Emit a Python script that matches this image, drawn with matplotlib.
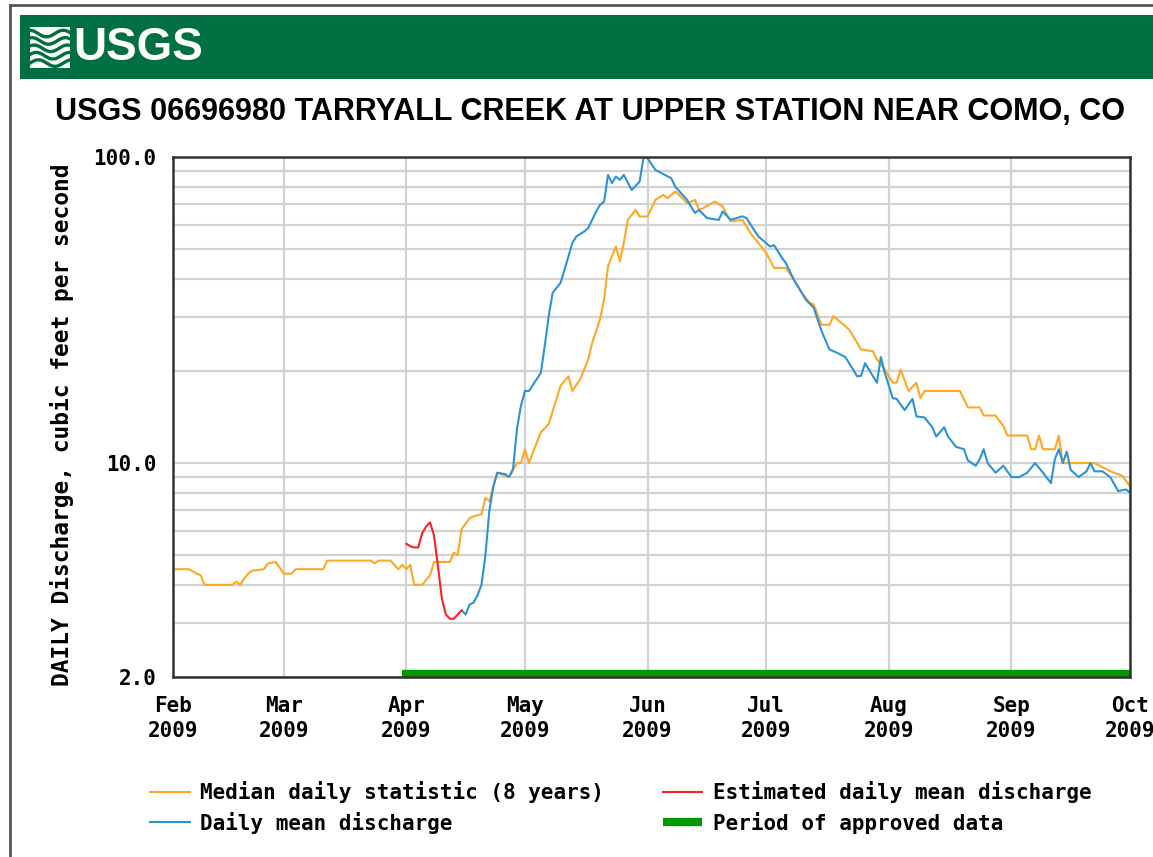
import numpy as np
import matplotlib
matplotlib.use("Agg")
import matplotlib.pyplot as plt
from matplotlib.ticker import FixedLocator, NullFormatter

median_days = [0, 4, 6, 7, 8, 15, 16, 17, 18, 19, 20, 23, 24, 26, 28, 30, 31, 38, 39, 50,
               51, 52, 55, 57, 58, 59, 60, 61, 63, 65, 66, 70, 71, 72, 73, 75, 76, 78, 79, 80,
               82, 85, 87, 88, 89, 90, 93, 95, 98, 100, 101, 103, 105, 106, 108, 109, 110, 112, 113, 114,
               115, 117, 118, 120, 122, 124, 125, 127, 128, 130, 132, 133, 134, 137, 139, 141, 144, 146, 150, 152,
               155, 157, 159, 161, 162, 164, 166, 167, 171, 174, 177, 178, 180, 182, 183, 184, 186, 188, 189, 190,
               199, 201, 204, 205, 208, 210, 211, 216, 217, 218, 219, 220, 223, 224, 225, 233, 235, 237, 240, 242]
median_cfs = [4.5, 4.5, 4.35, 4.3, 4.0, 4.0, 4.1, 4.0, 4.2, 4.35, 4.45, 4.5, 4.7, 4.75, 4.35, 4.35, 4.5, 4.5, 4.8, 4.8,
              4.7, 4.8, 4.8, 4.5, 4.65, 4.5, 4.65, 4.0, 4.0, 4.3, 4.75, 4.75, 5.1, 5.0, 6.1, 6.6, 6.7, 6.8, 7.7, 7.5,
              9.3, 9.0, 10.0, 10.0, 11.1, 10.0, 12.6, 13.4, 17.9, 19.2, 17.2, 18.8, 21.8, 24.7, 29.5, 34.2, 44, 51, 45.6, 52.4,
              62.3, 67.2, 63.9, 63.9, 72.4, 75.2, 73.4, 77.1, 75.2, 70.7, 72.4, 67.2, 68, 71.5, 68.9, 61.6, 62.3, 56.5, 48.6, 43.4,
              43.4, 39.7, 36, 33.4, 33, 28.3, 28.3, 30.2, 27.3, 23.5, 23.2, 21.8, 20.2, 18.3, 18.3, 20.2, 17.2, 18.3, 16.3, 17.2,
              17.2, 15.2, 15.2, 14.3, 14.3, 13.2, 12.3, 12.3, 11.1, 11.1, 12.3, 11.1, 11.1, 12.3, 10.0, 10.0, 9.7, 9.4, 9.1, 8.4]

est_days = [59, 60, 61, 62, 63, 64, 65, 66, 67, 68, 69, 70, 71, 72, 73]
est_cfs = [5.45, 5.35, 5.3, 5.3, 5.9, 6.2, 6.4, 5.8, 4.6, 3.6, 3.2, 3.1, 3.1, 3.2, 3.3]

mean_days = [73, 74, 75, 76, 77, 78, 79, 80, 81, 82, 84, 85, 86, 87, 88, 89, 90, 93, 94, 95,
             96, 98, 99, 101, 102, 104, 105, 107, 108, 109, 110, 111, 112, 113, 114, 116, 118, 119, 120, 122,
             126, 127, 130, 132, 133, 135, 138, 139, 141, 144, 145, 148, 151, 152, 154, 155, 157, 159, 160, 162,
             164, 166, 168, 170, 172, 173, 174, 175, 178, 179, 180, 182, 183, 185, 187, 188, 190, 192, 193, 195,
             196, 198, 200, 201, 203, 204, 205, 206, 208, 210, 212, 214, 216, 218, 220, 222, 223, 224, 225, 226,
             227, 229, 231, 232, 233, 235, 237, 239, 241, 242]
mean_cfs = [3.3, 3.2, 3.45, 3.5, 3.7, 4.0, 5.0, 7.0, 8.4, 9.3, 9.2, 9.0, 9.6, 13.0, 15.4, 17.2, 17.2, 19.7, 24.1, 30.2,
            36, 38.8, 42.8, 52.4, 55, 57.1, 58.6, 66.4, 69.8, 71.5, 87.4, 82.1, 86.3, 84.2, 87.4, 78, 83.1, 100, 99, 90.7,
            85.2, 80, 72.4, 65.6, 67.2, 63.2, 62.3, 66.4, 62.3, 64, 63.2, 55, 51, 51.5, 46.8, 45, 39.7, 36, 34.2, 32.2,
            27, 23.5, 22.9, 22.2, 20.2, 19.2, 19.3, 21.2, 18.3, 22.2, 19.7, 16.3, 16.2, 14.9, 16.2, 14.2, 14.1, 13.1, 12.2, 13.1,
            12.2, 11.3, 11.1, 10.2, 9.8, 10.3, 11.1, 10.0, 9.3, 9.8, 9.0, 9.0, 9.3, 10.0, 9.3, 8.6, 10.3, 11.1, 10.0, 10.9,
            9.5, 9.0, 9.4, 10.0, 9.4, 9.4, 9.0, 8.1, 8.2, 8.0]

approved_days = [58, 242]

month_labels = ["Feb\n2009", "Mar\n2009", "Apr\n2009", "May\n2009", "Jun\n2009",
                "Jul\n2009", "Aug\n2009", "Sep\n2009", "Oct\n2009"]
y_major = [2, 10, 100]
y_major_labels = ["2.0", "10.0", "100.0"]
y_minor = [3, 4, 5, 6, 7, 8, 9, 20, 30, 40, 50, 60, 70, 80, 90]

start = np.datetime64("2009-02-01")


def to_dates(days):
    return start + np.array(days).astype("timedelta64[D]")


mono = {"family": "DejaVu Sans Mono", "weight": "bold", "size": 15}
sans = ["Liberation Sans", "DejaVu Sans"]

W, H = 1153, 857
fig = plt.figure(figsize=(W / 100, H / 100), dpi=100)

# outer frame
fig.add_artist(plt.Line2D([10 / W, 1], [1 - 5 / H, 1 - 5 / H], color="#555555", lw=2))
fig.add_artist(plt.Line2D([10 / W, 10 / W], [0, 1 - 5 / H], color="#555555", lw=2))

# green banner with logo
fig.add_artist(plt.Rectangle((20 / W, 1 - 79 / H), 1 - 20 / W, 64 / H,
                             color="#006F41", lw=0))
icon = fig.add_axes([30 / W, 1 - 68 / H, 40 / W, 41 / H])
icon.set_zorder(5)
icon.set_facecolor("white")
t = np.linspace(0, 1, 50)
for k in range(5):
    icon.plot(t, 0.12 + 0.18 * k + 0.08 * np.sin(2 * np.pi * t * 1.2 + k * 0.4),
              color="#006F41", lw=2.4)
icon.set_xlim(0, 1)
icon.set_ylim(0, 1)
icon.set_xticks([])
icon.set_yticks([])
for s in icon.spines.values():
    s.set_visible(False)
fig.text(73 / W, 1 - 48 / H, "USGS", color="white", fontsize=33, weight="bold",
         family=sans, va="center", ha="left", zorder=6)

fig.text(590 / W, 1 - 112 / H, "USGS 06696980 TARRYALL CREEK AT UPPER STATION NEAR COMO, CO",
         fontsize=22, weight="bold", family=sans, ha="center", va="center")

ax = fig.add_axes([173 / W, 1 - 677 / H, 957 / W, 520 / H])
ax.set_yscale("log")

l_med, = ax.plot(to_dates(median_days), median_cfs, color="#FFA824", lw=1.5,
                 label="Median daily statistic (8 years)")
l_mean, = ax.plot(to_dates(mean_days), mean_cfs, color="#2B93D8", lw=1.5,
                  label="Daily mean discharge")
l_est, = ax.plot(to_dates(est_days), est_cfs, color="#FF2020", lw=1.5,
                 label="Estimated daily mean discharge")
l_app, = ax.plot(to_dates(approved_days), [0.006, 0.006], color="#009900", lw=6,
                 solid_capstyle="butt", transform=ax.get_xaxis_transform(),
                 clip_on=False, label="Period of approved data")

ax.set_ylim(2, 100)
ax.set_xlim(start, np.datetime64("2009-10-01"))
ax.yaxis.set_major_locator(FixedLocator(y_major))
ax.yaxis.set_minor_locator(FixedLocator(y_minor))
ax.yaxis.set_minor_formatter(NullFormatter())
ax.set_yticklabels(y_major_labels, fontdict=mono)
month_ticks = np.arange("2009-02", "2009-11", dtype="datetime64[M]").astype("datetime64[D]")
ax.set_xticks(month_ticks)
ax.set_xticklabels(month_labels, fontdict=mono, linespacing=1.3)
ax.tick_params(axis="both", which="both", length=0)
ax.tick_params(axis="y", pad=12)
ax.tick_params(axis="x", pad=14)

ax.grid(True, which="major", axis="x", color="#D2D2D2", lw=1.6)
ax.grid(True, which="both", axis="y", color="#D2D2D2", lw=1.6)
ax.set_axisbelow(True)
for s in ax.spines.values():
    s.set_color("#333333")
    s.set_linewidth(1.8)

fig.text(62 / W, 1 - 425 / H, "DAILY Discharge, cubic feet per second", rotation=90,
         ha="center", va="center", family="DejaVu Sans Mono", weight="bold", size=16.5)

fig.legend(handles=[l_med, l_mean, l_est, l_app], ncol=2, frameon=False,
           loc="upper left", bbox_to_anchor=(142 / W, 1 - 773 / H),
           prop=mono, handlelength=1.9, handletextpad=0.5, columnspacing=2.8,
           labelspacing=0.4, borderaxespad=0)

fig.savefig("out.png", dpi=100)
